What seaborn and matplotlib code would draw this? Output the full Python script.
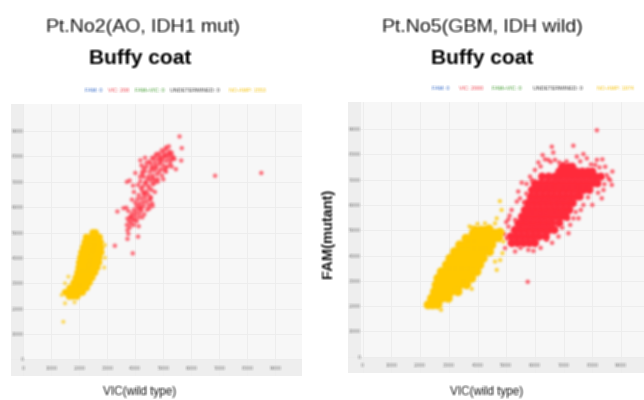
import matplotlib
matplotlib.use('Agg')
import matplotlib.pyplot as plt
import numpy as np
import seaborn as sns

# values, in thousands of droplet amplitude
tick_vals = [0, 1, 2, 3, 4, 5, 6, 7, 8, 9]
tick_labels = ['0', '1000', '2000', '3000', '4000', '5000', '6000', '7000', '8000', '9000']

# Pt.No2
no2_red_x = [3.75, 3.72, 3.8, 3.7, 3.85, 3.95, 3.78, 3.9, 4.05, 3.72, 3.82, 3.98, 4.12, 4.25, 3.88, 4.02, 4.15, 4.32,
             3.75, 3.95, 4.1, 4.22, 4.42, 3.68, 4.05, 4.18, 4.3, 4.48, 4.0, 4.15, 4.28, 4.4, 3.88, 4.08, 4.22, 4.35,
             4.55, 4.12, 4.3, 4.45, 3.95, 4.25, 4.4, 4.58, 3.92, 3.7, 3.8, 4.1, 4.28, 4.45, 4.62, 4.18, 4.38, 4.55,
             4.7, 4.17, 4.3, 4.48, 4.62, 4.78, 4.35, 4.52, 4.68, 4.85, 4.4, 4.6, 4.75, 4.92, 5.05, 4.55, 4.7, 4.85,
             5.0, 5.15, 4.65, 4.8, 4.95, 5.1, 5.25, 4.72, 4.88, 5.02, 5.18, 5.32, 4.85, 5.0, 5.12, 5.28, 5.36, 4.95,
             5.08, 5.22, 5.3, 5.1, 5.2, 4.5, 4.6, 4.75, 4.9, 5.05, 5.2, 4.58, 4.72, 4.9, 5.08, 5.25, 4.25, 4.45,
             4.62, 4.35, 4.5, 4.2, 4.32, 4.0, 4.52, 3.85, 3.98, 4.12,
             4.22, 4.3, 4.18, 4.4, 4.35, 4.25, 4.68, 4.8, 4.95, 5.1, 4.7, 4.55, 4.6, 4.8, 5.0, 5.4, 5.3, 4.5, 4.62, 4.2,
             5.58, 5.66, 5.64, 5.45, 3.27, 3.91, 3.72, 4.1, 3.36, 3.58, 6.85, 8.5]
no2_red_y = [4.95, 5.1, 5.2, 5.3, 5.35, 5.3, 5.45, 5.5, 5.45, 5.55, 5.62, 5.65, 5.6, 5.6, 5.75, 5.78, 5.75, 5.72,
             5.85, 5.9, 5.92, 5.88, 5.9, 5.98, 6.05, 6.02, 6.05, 6.08, 6.18, 6.15, 6.2, 6.22, 6.3, 6.32, 6.35, 6.38,
             6.4, 6.48, 6.52, 6.5, 6.6, 6.65, 6.62, 6.68, 6.85, 7.0, 7.05, 6.88, 6.82, 6.85, 6.9, 7.02, 7.0, 7.05,
             7.08, 7.2, 7.2, 7.22, 7.25, 7.3, 7.42, 7.4, 7.45, 7.4, 7.6, 7.58, 7.55, 7.5, 7.45, 7.72, 7.75, 7.7,
             7.65, 7.6, 7.9, 7.88, 7.85, 7.82, 7.7, 8.02, 8.0, 7.98, 7.95, 7.9, 8.12, 8.15, 8.08, 8.05, 7.98, 8.25,
             8.28, 8.2, 8.15, 8.36, 8.4, 7.8, 7.95, 8.1, 7.92, 8.02, 8.1, 7.52, 7.62, 7.78, 7.55, 7.82, 7.3, 7.12,
             7.15, 6.95, 6.75, 6.75, 6.55, 7.35, 6.3, 5.62, 5.5, 5.25,
             7.65, 7.55, 7.85, 7.75, 7.95, 7.4, 6.95, 7.1, 7.25, 7.4, 6.6, 6.35, 6.15, 7.0, 7.1, 7.9, 7.6, 5.95, 6.05, 5.95,
             8.79, 8.33, 7.84, 7.5, 4.48, 4.18, 4.75, 4.84, 5.83, 5.96, 7.24, 7.35]
no2_gold_x = [2.48, 2.58, 2.25, 2.42, 2.6, 2.72, 2.2, 2.3, 2.48, 2.64, 2.76, 2.14, 2.28, 2.44, 2.62, 2.78,
              2.08, 2.22, 2.38, 2.56, 2.7, 2.78, 2.04, 2.16, 2.32, 2.5, 2.64, 2.72, 2.0, 2.12, 2.28, 2.46, 2.6, 2.7,
              1.98, 2.08, 2.24, 2.42, 2.56, 2.64, 1.94, 2.04, 2.2, 2.36, 2.5, 2.56, 1.88, 1.98, 2.14, 2.3, 2.42, 2.46,
              1.8, 1.9, 2.06, 2.22, 2.32, 2.36, 1.66, 1.78, 1.92, 2.08, 2.18, 2.26, 1.5, 1.62, 1.76, 1.92, 2.04, 2.12,
              1.64, 1.78, 1.92]
no2_gold_y = [5.0, 5.0, 4.82, 4.82, 4.82, 4.82, 4.62, 4.62, 4.62, 4.62, 4.62, 4.42, 4.42, 4.42, 4.42, 4.42,
              4.22, 4.22, 4.22, 4.22, 4.22, 4.22, 4.02, 4.02, 4.02, 4.02, 4.02, 4.02, 3.82, 3.82, 3.82, 3.82, 3.82, 3.82,
              3.62, 3.62, 3.62, 3.62, 3.62, 3.62, 3.42, 3.42, 3.42, 3.42, 3.42, 3.42, 3.22, 3.22, 3.22, 3.22, 3.22, 3.22,
              3.02, 3.02, 3.02, 3.02, 3.02, 3.02, 2.82, 2.82, 2.82, 2.82, 2.82, 2.82, 2.64, 2.64, 2.64, 2.64, 2.64, 2.64,
              2.48, 2.48, 2.48]
no2_gold_stray_x = [1.43, 2.92, 2.89, 2.92, 1.49, 1.61, 1.49, 1.83, 1.37]
no2_gold_stray_y = [1.48, 4.51, 3.62, 4.01, 2.21, 3.26, 3.0, 2.25, 2.54]

# Pt.No5
no5_red_x = [5.2, 5.4, 5.6, 5.8, 6.0, 5.15, 5.35, 5.55, 5.75, 5.95, 6.15, 6.38, 5.3, 5.5, 5.7, 5.9, 6.1, 6.3, 6.5, 6.68,
             5.6, 5.8, 6.0, 6.2, 6.4, 6.6, 6.85, 5.72, 5.92, 6.12, 6.32, 6.52, 6.72, 6.92, 7.08,
             5.83, 6.03, 6.23, 6.43, 6.63, 6.83, 7.03, 7.2, 5.95, 6.15, 6.35, 6.55, 6.75, 6.95, 7.15, 7.32,
             6.05, 6.25, 6.45, 6.65, 6.85, 7.05, 7.25, 7.45, 7.56, 6.1, 6.3, 6.5, 6.7, 6.9, 7.1, 7.3, 7.5, 7.7, 7.9,
             6.2, 6.4, 6.6, 6.8, 7.0, 7.2, 7.4, 7.6, 7.8, 8.0, 8.18, 6.48, 6.7, 6.9, 7.1, 7.3, 7.5, 7.7, 7.9, 8.1, 8.3,
             6.85, 7.05, 7.25, 7.45, 7.65, 7.85, 8.0, 6.95, 7.15, 7.3,
             5.42, 5.55, 5.65, 5.75, 5.85, 5.9, 6.0, 6.25]
no5_red_y = [4.49, 4.49, 4.49, 4.49, 4.49, 4.75, 4.75, 4.75, 4.75, 4.75, 4.75, 4.75, 5.01, 5.01, 5.01, 5.01, 5.01, 5.01, 5.01, 5.01,
             5.28, 5.28, 5.28, 5.28, 5.28, 5.28, 5.28, 5.54, 5.54, 5.54, 5.54, 5.54, 5.54, 5.54, 5.54,
             5.8, 5.8, 5.8, 5.8, 5.8, 5.8, 5.8, 5.8, 6.07, 6.07, 6.07, 6.07, 6.07, 6.07, 6.07, 6.07,
             6.33, 6.33, 6.33, 6.33, 6.33, 6.33, 6.33, 6.33, 6.33, 6.59, 6.59, 6.59, 6.59, 6.59, 6.59, 6.59, 6.59, 6.59, 6.59,
             6.85, 6.85, 6.85, 6.85, 6.85, 6.85, 6.85, 6.85, 6.85, 6.85, 6.85, 7.12, 7.12, 7.12, 7.12, 7.12, 7.12, 7.12, 7.12, 7.12, 7.12,
             7.32, 7.32, 7.32, 7.32, 7.32, 7.32, 7.32, 7.51, 7.51, 7.51,
             5.28, 5.54, 5.8, 6.07, 6.33, 6.59, 6.85, 7.12]
no5_red_edge_x = [6.59, 7.34, 6.64, 6.27, 6.12, 6.35, 6.47, 7.46, 7.69, 7.81, 8.16, 8.35, 8.1, 8.45, 8.7, 8.56, 8.68, 8.39,
                  8.33, 8.0, 7.69, 7.52, 7.23, 7.34, 6.82, 7.17, 6.41, 5.77, 5.31, 4.96, 5.02, 5.08, 5.08, 5.31, 5.19,
                  5.37, 5.48, 5.42, 5.54, 5.71, 5.83, 6.0, 8.16, 5.75, 6.55, 6.85, 7.1, 7.0, 7.58, 7.95, 8.25, 8.5,
                  8.62, 8.42, 8.2, 7.85, 7.6, 7.42, 7.15, 6.95, 6.6, 6.2, 5.95, 5.5, 5.15, 4.92, 5.0, 5.12, 5.62, 5.7,
                  5.9, 6.7, 6.2]
no5_red_edge_y = [8.3, 8.34, 8.07, 7.97, 7.68, 7.8, 7.78, 7.91, 8.01, 7.84, 7.78, 7.8, 7.58, 7.51, 7.32, 7.05, 6.79, 6.59,
                  6.26, 6.0, 6.0, 5.47, 5.21, 5.47, 4.75, 4.88, 4.62, 4.22, 4.16, 4.29, 4.68, 5.14, 5.43, 5.41, 5.8,
                  6.13, 6.26, 6.53, 6.88, 6.83, 7.12, 7.38, 8.95, 2.96, 7.7, 7.68, 7.72, 7.6, 7.72, 7.6, 7.48, 7.18,
                  6.98, 6.82, 6.48, 6.3, 5.8, 5.72, 5.45, 5.1, 4.5, 4.3, 4.18, 4.3, 4.5, 4.85, 5.32, 5.58, 6.1, 6.45,
                  6.98, 7.78, 7.52]
no5_gold_x = [2.28, 2.44, 2.62, 2.4, 2.58, 2.76, 2.98, 2.5, 2.68, 2.88, 3.08, 3.32, 2.56, 2.76, 2.96, 3.16, 3.38, 3.62,
              2.62, 2.82, 3.02, 3.22, 3.42, 3.62, 3.8, 2.74, 2.94, 3.14, 3.34, 3.54, 3.76, 3.98,
              2.92, 3.12, 3.32, 3.52, 3.72, 3.92, 4.08, 3.04, 3.24, 3.44, 3.64, 3.84, 4.04, 4.2,
              3.2, 3.4, 3.6, 3.8, 4.0, 4.2, 4.42, 3.38, 3.58, 3.78, 3.98, 4.18, 4.38, 4.5,
              3.6, 3.8, 4.0, 4.2, 4.4, 4.58, 3.85, 4.05, 4.25, 4.45, 4.62, 3.92, 4.12, 4.28, 4.74, 4.78, 4.4]
no5_gold_y = [2.05, 2.05, 2.05, 2.31, 2.31, 2.31, 2.31, 2.57, 2.57, 2.57, 2.57, 2.57, 2.84, 2.84, 2.84, 2.84, 2.84, 2.84,
              3.1, 3.1, 3.1, 3.1, 3.1, 3.1, 3.1, 3.36, 3.36, 3.36, 3.36, 3.36, 3.36, 3.36,
              3.63, 3.63, 3.63, 3.63, 3.63, 3.63, 3.63, 3.89, 3.89, 3.89, 3.89, 3.89, 3.89, 3.89,
              4.15, 4.15, 4.15, 4.15, 4.15, 4.15, 4.15, 4.42, 4.42, 4.42, 4.42, 4.42, 4.42, 4.42,
              4.68, 4.68, 4.68, 4.68, 4.68, 4.68, 4.88, 4.88, 4.88, 4.88, 4.88, 5.0, 5.0, 5.0, 4.7, 4.92, 5.05]
no5_gold_stray_x = [4.67, 4.26, 3.8, 4.61, 4.67, 3.8, 2.73, 4.87, 4.79, 4.61, 4.78, 4.84, 4.0, 3.72, 4.9]
no5_gold_stray_y = [5.47, 5.27, 5.1, 3.76, 3.43, 2.68, 1.85, 4.09, 3.82, 5.27, 6.15, 5.8, 5.25, 5.15, 4.55]

legend_names = ['FAM: 0', 'VIC: 208', 'FAM+VIC: 0', 'UNDETERMINED: 0', 'NO-AMP: 1553']
legend_names2 = ['FAM: 0', 'VIC: 2000', 'FAM+VIC: 0', 'UNDETERMINED: 0', 'NO-AMP: 1974']
legend_colors = ['#2f66c8', '#f0404c', '#3f9a2c', '#333333', '#f7c30a']

RED = '#ff2a3c'
GOLD = '#ffc800'
W, H = 644, 400


# the reference is a soft, upscaled picture, so blur the marks and the texts a little
def soften(img, dpi, r=1):
    pad = 3
    img = np.pad(img, ((pad, pad), (pad, pad), (0, 0)))
    a = img[:, :, 3:]
    pre = np.concatenate([img[:, :, :3] * a, a], axis=2)
    for axis in (0, 1):
        pre = sum(np.roll(pre, k, axis=axis) for k in range(-r, r + 1)) / (2 * r + 1)
    out = pre.copy()
    alpha = pre[:, :, 3:]
    out[:, :, :3] = np.where(alpha > 0, pre[:, :, :3] / np.maximum(alpha, 1e-6), 0)
    return np.clip(out, 0, 1), -pad, -pad


sns.set_theme(style='white')
plt.rcParams['font.family'] = ['Liberation Sans', 'DejaVu Sans']

fig = plt.figure(figsize=(W / 100, H / 100), dpi=100)


def panel(box, x0, y0, dx, dy):
    # box is left, top, right, bottom in pixels; x0,y0 = pixel of the 0 gridlines
    l, t, r, b = box
    ax = fig.add_axes([l / W, 1 - b / H, (r - l) / W, (b - t) / H])
    ax.set_facecolor('#f7f7f7')
    ax.set_xlim((l - x0) / dx, (r - x0) / dx)
    ax.set_ylim((y0 - b) / dy, (y0 - t) / dy)
    ax.axvspan((l - x0) / dx, (l + 13 - x0) / dx, color='#eeeeee', lw=0, zorder=0)
    ax.axhspan((y0 - b) / dy, 0, color='#eeeeee', lw=0, zorder=0)
    ax.set_xticks(tick_vals)
    ax.set_yticks(tick_vals)
    ax.set_xticklabels(tick_labels, color='#777777', fontsize=3.8)
    ax.set_yticklabels(tick_labels, color='#777777', fontsize=3.8)
    ax.tick_params(axis='x', length=0, pad=-7)
    ax.tick_params(axis='y', length=0, pad=-9)
    ax.grid(True, color='#ececec', lw=0.6)
    ax.set_axisbelow(True)
    sns.despine(ax=ax, left=True, bottom=True, right=True, top=True)
    for lab in ax.get_xticklabels() + ax.get_yticklabels():
        lab.set_agg_filter(soften)
    return ax


def cloud(ax, x, y, color, s, alpha=1.0):
    sns.scatterplot(x=x, y=y, color=color, s=s, alpha=alpha, linewidth=0, edgecolor='none', ax=ax)
    ax.collections[-1].set_agg_filter(soften)


ax1 = panel((11, 104, 302, 376), 23.3, 359.3, 28, 25.35)
cloud(ax1, no2_red_x, no2_red_y, RED, 10, 0.7)
cloud(ax1, no2_gold_stray_x, no2_gold_stray_y, GOLD, 8, 0.7)
cloud(ax1, no2_gold_x, no2_gold_y, GOLD, 24)

ax2 = panel((348, 102, 644, 373), 362.7, 356.7, 28.7, 25.3)
cloud(ax2, no5_red_edge_x, no5_red_edge_y, RED, 10, 0.75)
cloud(ax2, no5_red_x, no5_red_y, RED, 34)
cloud(ax2, no5_gold_stray_x, no5_gold_stray_y, GOLD, 9, 0.8)
cloud(ax2, no5_gold_x, no5_gold_y, GOLD, 42)

labels = []
# titles
labels.append(fig.text(143 / W, 1 - 27 / H, 'Pt.No2(AO, IDH1 mut)', ha='center', va='center', fontsize=14, color='#111111'))
labels.append(fig.text(140 / W, 1 - 58 / H, 'Buffy coat', ha='center', va='center', fontsize=15, fontweight='bold', color='#000000'))
labels.append(fig.text(482 / W, 1 - 27 / H, 'Pt.No5(GBM, IDH wild)', ha='center', va='center', fontsize=14, color='#111111'))
labels.append(fig.text(482 / W, 1 - 58 / H, 'Buffy coat', ha='center', va='center', fontsize=15, fontweight='bold', color='#000000'))

# axis captions
labels.append(fig.text(140 / W, 1 - 392 / H, 'VIC(wild type)', ha='center', va='center', fontsize=8.5, color='#111111'))
labels.append(fig.text(487 / W, 1 - 392 / H, 'VIC(wild type)', ha='center', va='center', fontsize=8.5, color='#111111'))
labels.append(fig.text(328 / W, 1 - 233 / H, 'FAM(mutant)', rotation=90, ha='center', va='center', fontsize=10.5,
                       fontweight='bold', color='#111111'))

# legends are tiny coloured text above each plot
legend_xs = [94, 119, 150, 195, 247]
legend_xs2 = [441, 471, 507, 558, 615]
for name, col, px in zip(legend_names, legend_colors, legend_xs):
    labels.append(fig.text(px / W, 1 - 91 / H, name, ha='center', va='center', fontsize=3.9, color=col))
for name, col, px in zip(legend_names2, legend_colors, legend_xs2):
    labels.append(fig.text(px / W, 1 - 89 / H, name, ha='center', va='center', fontsize=3.9, color=col))

for lab in labels:
    lab.set_agg_filter(soften)

fig.savefig('out.png', dpi=100)
